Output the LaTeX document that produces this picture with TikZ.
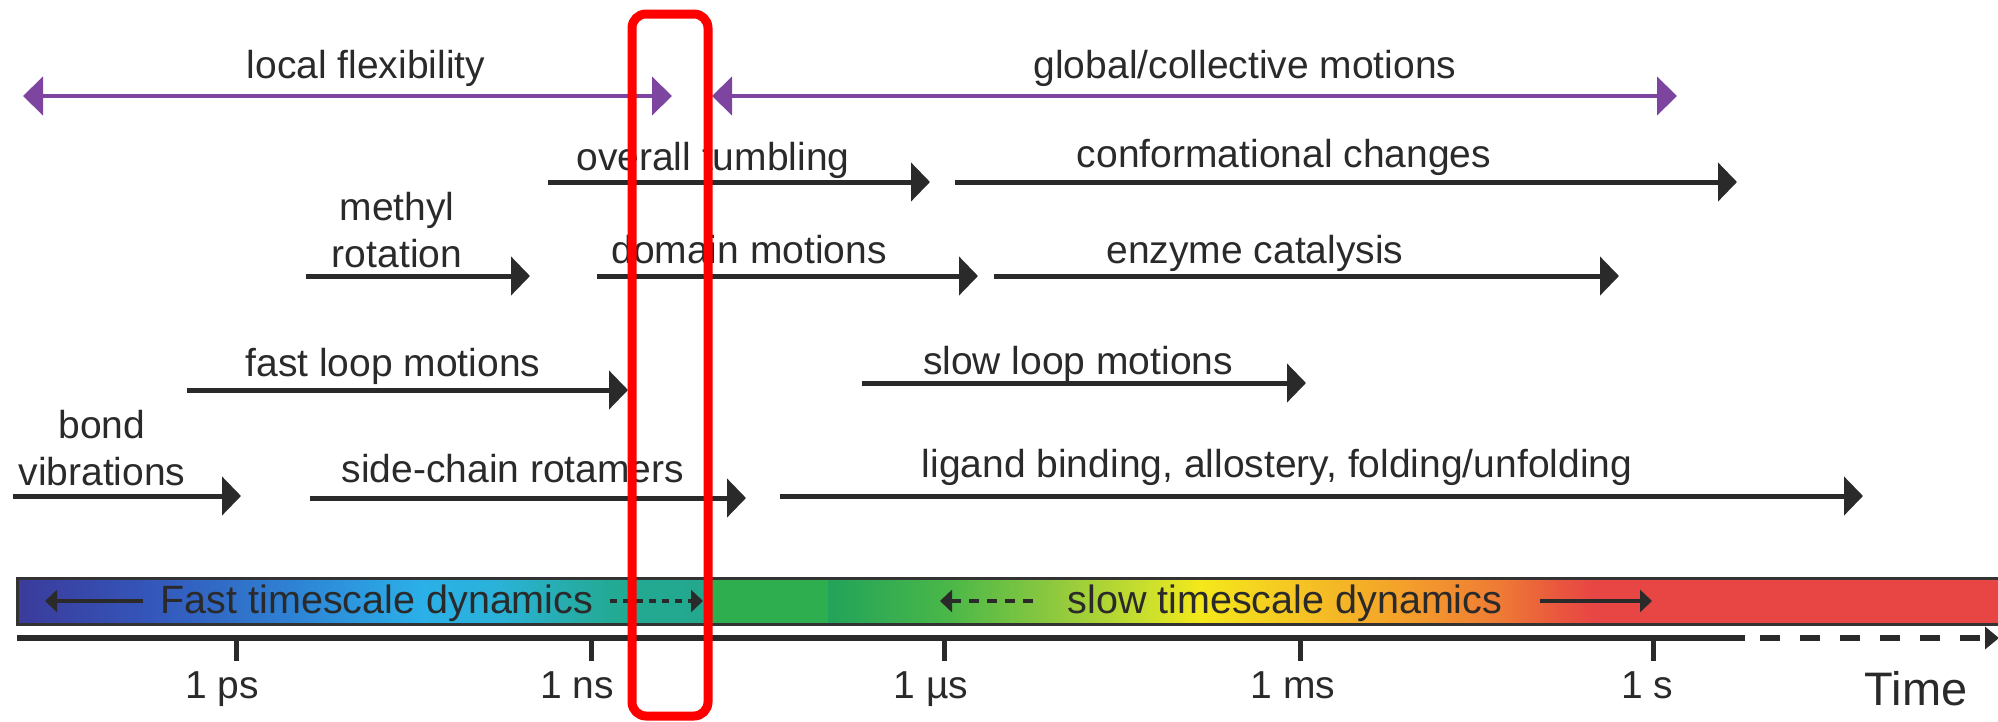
\documentclass[tikz,border=0pt]{standalone}
\usepackage{fontspec}
\setmainfont{Liberation Sans}
\usetikzlibrary{arrows.meta}
\definecolor{purp}{HTML}{7D45A0}
\definecolor{ink}{HTML}{2A2A2A}
\definecolor{barline}{HTML}{333333}
\definecolor{hotred}{HTML}{FE0000}
\begin{document}
\begin{tikzpicture}[x=1pt,y=-1pt,
  lbl/.style={anchor=base,inner sep=0pt,font=\fontsize{39}{47}\selectfont,text=ink},
  barlbl/.style={anchor=base,inner sep=0pt,font=\fontsize{39.5}{47}\selectfont,text=ink},
  biglbl/.style={anchor=base,inner sep=0pt,font=\fontsize{47}{56}\selectfont,text=ink},
  spanarrow/.style={line width=5pt,draw=ink,-{Triangle[length=19pt,width=38pt]}},
  pspanarrow/.style={line width=4.5pt,draw=purp,{Triangle[length=20pt,width=38pt]}-{Triangle[length=20pt,width=38pt]}},
  barar/.style={line width=3.5pt,draw=ink,-{Triangle[length=12pt,width=22pt]}},
  tickmark/.style={line width=5pt,draw=ink},
]
\useasboundingbox (0,0) rectangle (1998,721);

% ---------- purple ranges ----------
\node[lbl] (local) at (366,78) {local flexibility};
\node[lbl] (global) at (1245,78) {global/collective motions};
\coordinate (lfS) at (23,96);  \coordinate (lfE) at (672,96);
\coordinate (gcS) at (712,96); \coordinate (gcE) at (1677,96);
\draw[pspanarrow] (lfS) -- (lfE);
\draw[pspanarrow] (gcS) -- (gcE);

% ---------- black ranges ----------
\node[lbl] (tumb) at (713,170) {overall tumbling};
\coordinate (tumS) at (548,182); \coordinate (tumE) at (930,182);
\draw[spanarrow] (tumS) -- (tumE);

\node[lbl] (conf) at (1284,167) {conformational changes};
\coordinate (confS) at (955,182); \coordinate (confE) at (1737,182);
\draw[spanarrow] (confS) -- (confE);

\node[lbl] (meth1) at (397,220) {methyl};
\node[lbl] (meth2) at (397,267) {rotation};
\coordinate (methS) at (306,276); \coordinate (methE) at (530,276);
\draw[spanarrow] (methS) -- (methE);

\node[lbl] (dom) at (749,263) {domain motions};
\coordinate (domS) at (597,276); \coordinate (domE) at (978,276);
\draw[spanarrow] (domS) -- (domE);

\node[lbl] (enz) at (1255,263) {enzyme catalysis};
\coordinate (enzS) at (994,276); \coordinate (enzE) at (1619,276);
\draw[spanarrow] (enzS) -- (enzE);

\node[lbl] (fastloop) at (393,376) {fast loop motions};
\coordinate (flS) at (187,390); \coordinate (flE) at (628,390);
\draw[spanarrow] (flS) -- (flE);

\node[lbl] (slowloop) at (1078,374) {slow loop motions};
\coordinate (slS) at (862,383); \coordinate (slE) at (1306,383);
\draw[spanarrow] (slS) -- (slE);

\node[lbl] (bond1) at (102,438) {bond};
\node[lbl] (bond2) at (102,485) {vibrations};
\coordinate (bvS) at (13,496); \coordinate (bvE) at (241,496);
\draw[spanarrow] (bvS) -- (bvE);

\node[lbl] (side) at (513,482) {side-chain rotamers};
\coordinate (scS) at (310,498); \coordinate (scE) at (746,498);
\draw[spanarrow] (scS) -- (scE);

\node[lbl] (lig) at (1277,477) {ligand binding, allostery, folding/unfolding};
\coordinate (ligS) at (780,496); \coordinate (ligE) at (1863,496);
\draw[spanarrow] (ligS) -- (ligE);

% ---------- colour bar ----------
\shade[left color={rgb,255:red,59;green,59;blue,155},right color={rgb,255:red,52;green,86;blue,186}] (17,578) rectangle (151,624);
\shade[left color={rgb,255:red,52;green,86;blue,186},right color={rgb,255:red,46;green,133;blue,214}] (150,578) rectangle (301,624);
\shade[left color={rgb,255:red,46;green,133;blue,214},right color={rgb,255:red,43;green,176;blue,232}] (300,578) rectangle (421,624);
\shade[left color={rgb,255:red,43;green,176;blue,232},right color={rgb,255:red,42;green,178;blue,216}] (420,578) rectangle (501,624);
\shade[left color={rgb,255:red,42;green,178;blue,216},right color={rgb,255:red,39;green,173;blue,176}] (500,578) rectangle (561,624);
\shade[left color={rgb,255:red,39;green,173;blue,176},right color={rgb,255:red,35;green,170;blue,148}] (560,578) rectangle (611,624);
\shade[left color={rgb,255:red,35;green,170;blue,148},right color={rgb,255:red,35;green,168;blue,141}] (610,578) rectangle (711,624);
\fill[fill={rgb,255:red,47;green,174;blue,79}] (710,578) rectangle (829,624);
\shade[left color={rgb,255:red,34;green,163;blue,90},right color={rgb,255:red,75;green,184;blue,72}] (828,578) rectangle (951,624);
\shade[left color={rgb,255:red,75;green,184;blue,72},right color={rgb,255:red,140;green,200;blue,63}] (950,578) rectangle (1051,624);
\shade[left color={rgb,255:red,140;green,200;blue,63},right color={rgb,255:red,205;green,224;blue,44}] (1050,578) rectangle (1151,624);
\shade[left color={rgb,255:red,205;green,224;blue,44},right color={rgb,255:red,245;green,232;blue,27}] (1150,578) rectangle (1201,624);
\shade[left color={rgb,255:red,245;green,232;blue,27},right color={rgb,255:red,245;green,196;blue,35}] (1200,578) rectangle (1301,624);
\shade[left color={rgb,255:red,245;green,196;blue,35},right color={rgb,255:red,244;green,161;blue,42}] (1300,578) rectangle (1401,624);
\shade[left color={rgb,255:red,244;green,161;blue,42},right color={rgb,255:red,238;green,122;blue,53}] (1400,578) rectangle (1501,624);
\shade[left color={rgb,255:red,238;green,122;blue,53},right color={rgb,255:red,233;green,85;blue,62}] (1500,578) rectangle (1561,624);
\shade[left color={rgb,255:red,233;green,85;blue,62},right color={rgb,255:red,232;green,69;blue,69}] (1560,578) rectangle (1596,624);
\fill[fill={rgb,255:red,232;green,69;blue,69}] (1595,578) rectangle (2010,624);
\draw[barline,line width=3pt] (17,578) rectangle (2010,624);

\node[barlbl] (fastdyn) at (377,613) {Fast timescale dynamics};
\node[barlbl] (slowdyn) at (1285,613) {slow timescale dynamics};
\coordinate (fa1S) at (143,601); \coordinate (fa1E) at (45,601);
\coordinate (fa2S) at (610,601); \coordinate (fa2E) at (703,601);
\coordinate (sa1S) at (1033,601); \coordinate (sa1E) at (940,601);
\coordinate (sa2S) at (1540,601); \coordinate (sa2E) at (1652,601);
\draw[barar] (fa1S) -- (fa1E);
\draw[barar,dash pattern=on 7pt off 6pt] (fa2S) -- (fa2E);
\draw[barar,dash pattern=on 10pt off 8pt] (sa1S) -- (sa1E);
\draw[barar] (sa2S) -- (sa2E);

% ---------- time axis ----------
\coordinate (axS) at (17,638); \coordinate (axM) at (1745,638);
\coordinate (axD) at (1760,638); \coordinate (axE) at (1999,638);
\draw[ink,line width=5.5pt] (axS) -- (axM);
\draw[ink,line width=5.5pt,dash pattern=on 20pt off 20pt,-{Triangle[length=14pt,width=22pt]}] (axD) -- (axE);

\foreach \x/\lx/\nm/\txt in {236/222/tps/1 ps,591/577/tns/1 ns,944/931/tus/1 µs,1300/1293/tms/1 ms,1653/1647/ts/1 s}{
  \coordinate (\nm) at (\x,638);
  \draw[tickmark] (\nm) -- ++(0,23);
  \node[lbl] (\nm lab) at (\lx,698) {\txt};
}
\node[biglbl] (time) at (1916,705) {Time};

% ---------- red highlight ----------
\draw[hotred,line width=9pt,rounded corners=14pt] (632,14) rectangle (708,716);
\end{tikzpicture}
\end{document}
